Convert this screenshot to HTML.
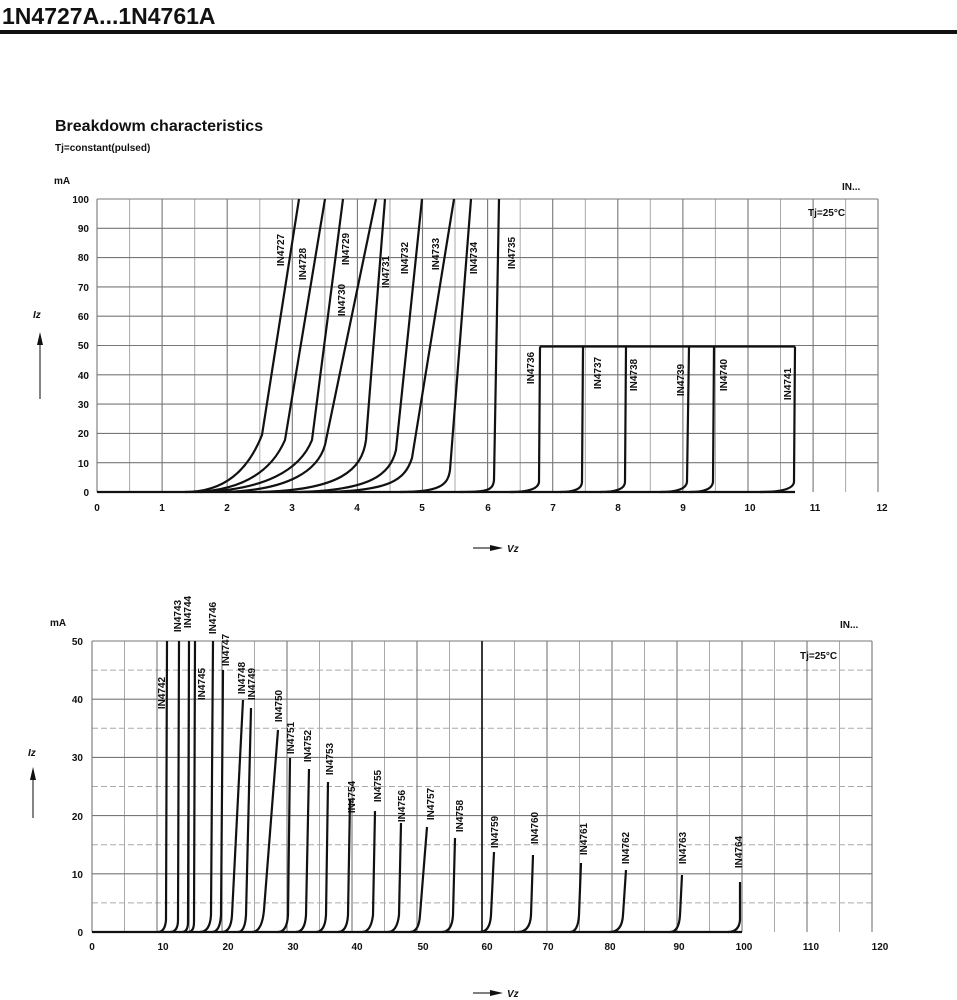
<!DOCTYPE html>
<html><head><meta charset="utf-8"><style>
body{margin:0;background:#fff;}
svg{display:block;font-family:"Liberation Sans",sans-serif;}
.t{font-weight:bold;font-size:10px;fill:#111;}
.lb{font-weight:bold;font-size:10px;fill:#111;}
</style></head><body>
<svg width="957" height="1000" viewBox="0 0 957 1000" xmlns="http://www.w3.org/2000/svg">
<text x="2" y="24" font-size="23" font-weight="bold" fill="#111">1N4727A...1N4761A</text>
<rect x="0" y="30" width="957" height="4" fill="#111"/>
<text x="55" y="131" font-size="16" font-weight="bold" fill="#111">Breakdowm characteristics</text>
<text x="55" y="151" font-size="10" font-weight="bold" fill="#111">Tj=constant(pulsed)</text>

<!-- TOP CHART -->
<g stroke="#aaa" stroke-width="1" fill="none">
<path d="M129.6 199V492M194.7 199V492M259.8 199V492M324.9 199V492M390 199V492M455 199V492M520.2 199V492M585.3 199V492M650.3 199V492M715.4 199V492M780.5 199V492M845.6 199V492"/>
</g>
<g stroke="#777" stroke-width="1.1" fill="none">
<path d="M97 199V492M162.1 199V492M227.2 199V492M292.3 199V492M357.4 199V492M422.5 199V492M487.6 199V492M552.7 199V492M617.8 199V492M682.9 199V492M748 199V492M813.1 199V492M878 199V492"/>
<path d="M97 199H878M97 228.3H878M97 257.6H878M97 286.9H878M97 316.2H878M97 345.5H878M97 374.8H878M97 404.1H878M97 433.4H878M97 462.7H878"/>
</g>
<g stroke="#111" stroke-width="2.2" fill="none" stroke-linejoin="round">
<path d="M97 492H795"/>
<path d="M540 346.5H795"/>
<path d="M185 492C225 492 248 470 262 435L299 199"/>
<path d="M195 492C245 490 272 470 285 440L325 199"/>
<path d="M200 492C265 490 300 470 312 440L343 199"/>
<path d="M225 492C290 490 318 470 325 445L376 199"/>
<path d="M260 492C340 490 362 470 366 440L385 199"/>
<path d="M300 492C370 490 390 475 396 450L422 199"/>
<path d="M330 492C390 490 405 480 412 458L454 199"/>
<path d="M400 492C440 492 448 485 450 470L471 199"/>
<path d="M460 492C488 492 493 490 494 480L499 199"/>
<path d="M510 492Q538 492 539 482L540 346.5"/>
<path d="M560 492Q582 492 582 482L583 346.5"/>
<path d="M600 492Q625 492 625 482L626 346.5"/>
<path d="M660 492Q686 492 687 482L689 346.5"/>
<path d="M690 492Q712 492 713 482L714 346.5"/>
<path d="M760 492Q793 492 794 482L795 346.5"/>
</g>
<g class="t" text-anchor="end">
<text x="89" y="203">100</text><text x="89" y="232">90</text><text x="89" y="261">80</text><text x="89" y="291">70</text><text x="89" y="320">60</text><text x="89" y="349">50</text><text x="89" y="379">40</text><text x="89" y="408">30</text><text x="89" y="437">20</text><text x="89" y="467">10</text><text x="89" y="496">0</text>
</g>
<g class="t" text-anchor="middle">
<text x="97" y="511">0</text><text x="162" y="511">1</text><text x="227" y="511">2</text><text x="292" y="511">3</text><text x="357" y="511">4</text><text x="422" y="511">5</text><text x="488" y="511">6</text><text x="553" y="511">7</text><text x="618" y="511">8</text><text x="683" y="511">9</text><text x="750" y="511">10</text><text x="815" y="511">11</text><text x="882" y="511">12</text>
</g>
<text x="54" y="184" class="t">mA</text>
<text x="33" y="318" class="t" font-style="italic">Iz</text>
<path d="M40 399V340" stroke="#333" stroke-width="1.2"/><path d="M37 345L40 332L43 345Z" fill="#111"/>
<path d="M473 548H496" stroke="#333" stroke-width="1.2"/><path d="M490 545L503 548L490 551Z" fill="#111"/>
<text x="507" y="552" class="t" font-style="italic">Vz</text>
<text x="842" y="190" class="t">IN...</text>
<text x="808" y="216" class="t">Tj=25°C</text>
<g class="lb" text-anchor="middle">
<text transform="translate(284,250) rotate(-90)">IN4727</text>
<text transform="translate(306,264) rotate(-90)">IN4728</text>
<text transform="translate(349,249) rotate(-90)">IN4729</text>
<text transform="translate(345,300) rotate(-90)">IN4730</text>
<text transform="translate(389,272) rotate(-90)">IN4731</text>
<text transform="translate(408,258) rotate(-90)">IN4732</text>
<text transform="translate(439,254) rotate(-90)">IN4733</text>
<text transform="translate(477,258) rotate(-90)">IN4734</text>
<text transform="translate(515,253) rotate(-90)">IN4735</text>
<text transform="translate(534,368) rotate(-90)">IN4736</text>
<text transform="translate(601,373) rotate(-90)">IN4737</text>
<text transform="translate(637,375) rotate(-90)">IN4738</text>
<text transform="translate(684,380) rotate(-90)">IN4739</text>
<text transform="translate(727,375) rotate(-90)">IN4740</text>
<text transform="translate(791,384) rotate(-90)">IN4741</text>
</g>

<!-- BOTTOM CHART -->
<g stroke="#aaa" stroke-width="1" fill="none">
<path d="M124.5 641V932M189.5 641V932M254.5 641V932M319.5 641V932M384.5 641V932M449.5 641V932M514.5 641V932M579.5 641V932M644.5 641V932M709.5 641V932M774.5 641V932M839.5 641V932"/>
<path d="M92 902.9H872M92 844.7H872M92 786.5H872M92 728.3H872M92 670.1H872" stroke-dasharray="6 3"/>
</g>
<g stroke="#777" stroke-width="1.1" fill="none">
<path d="M92 641V932M157 641V932M222 641V932M287 641V932M352 641V932M417 641V932M547 641V932M612 641V932M677 641V932M742 641V932M807 641V932M872 641V932"/>
<path d="M92 641H872M92 873.8H872M92 815.6H872M92 757.4H872M92 699.2H872"/>
</g>
<path d="M482 641V932" stroke="#222" stroke-width="1.8"/>
<g stroke="#111" stroke-width="2.2" fill="none" stroke-linejoin="round">
<path d="M92 932H742"/>
<path d="M158 932Q165 932 166 920L167 641"/>
<path d="M170 932Q178 932 178 920L179 641"/>
<path d="M182 932Q188 932 188 922L189 641"/>
<path d="M188 932Q194 932 194 922L195 641"/>
<path d="M200 932Q210 932 211 915L213 641"/>
<path d="M212 932Q220 932 221 915L223 670"/>
<path d="M222 932Q231 932 232 915L243 700"/>
<path d="M238 932Q245 932 246 915L251 708"/>
<path d="M252 932Q262 932 264 910L278 730"/>
<path d="M278 932Q287 932 288 915L290 758"/>
<path d="M296 932Q305 932 306 915L309 769"/>
<path d="M316 932Q325 932 326 915L328 782"/>
<path d="M338 932Q347 932 348 915L350 799"/>
<path d="M362 932Q371 932 373 915L375 811"/>
<path d="M388 932Q397 932 399 915L401 823"/>
<path d="M410 932Q419 932 420 915L427 827"/>
<path d="M442 932Q452 932 453 915L455 838"/>
<path d="M480 932Q490 932 491 915L494 852"/>
<path d="M518 932Q530 932 531 915L533 855"/>
<path d="M570 932Q578 932 579 915L581 863"/>
<path d="M610 932Q622 932 623 915L626 870"/>
<path d="M670 932Q679 932 680 915L682 875"/>
<path d="M728 932Q739 932 740 920L740 882"/>
</g>
<g class="t" text-anchor="end">
<text x="83" y="645">50</text><text x="83" y="703">40</text><text x="83" y="761">30</text><text x="83" y="820">20</text><text x="83" y="878">10</text><text x="83" y="936">0</text>
</g>
<g class="t" text-anchor="middle">
<text x="92" y="950">0</text><text x="163" y="950">10</text><text x="228" y="950">20</text><text x="293" y="950">30</text><text x="357" y="950">40</text><text x="423" y="950">50</text><text x="487" y="950">60</text><text x="548" y="950">70</text><text x="610" y="950">80</text><text x="679" y="950">90</text><text x="744" y="950">100</text><text x="811" y="950">110</text><text x="880" y="950">120</text>
</g>
<text x="50" y="626" class="t">mA</text>
<text x="28" y="756" class="t" font-style="italic">Iz</text>
<path d="M33 818V773" stroke="#333" stroke-width="1.2"/><path d="M30 780L33 767L36 780Z" fill="#111"/>
<path d="M473 993H496" stroke="#333" stroke-width="1.2"/><path d="M490 990L503 993L490 996Z" fill="#111"/>
<text x="507" y="997" class="t" font-style="italic">Vz</text>
<text x="840" y="628" class="t">IN...</text>
<text x="800" y="659" class="t">Tj=25°C</text>
<g class="lb" text-anchor="middle">
<text transform="translate(165,693) rotate(-90)">IN4742</text>
<text transform="translate(181,616) rotate(-90)">IN4743</text>
<text transform="translate(191,612) rotate(-90)">IN4744</text>
<text transform="translate(205,684) rotate(-90)">IN4745</text>
<text transform="translate(216,618) rotate(-90)">IN4746</text>
<text transform="translate(229,650) rotate(-90)">IN4747</text>
<text transform="translate(245,678) rotate(-90)">IN4748</text>
<text transform="translate(255,684) rotate(-90)">IN4749</text>
<text transform="translate(282,706) rotate(-90)">IN4750</text>
<text transform="translate(294,738) rotate(-90)">IN4751</text>
<text transform="translate(311,746) rotate(-90)">IN4752</text>
<text transform="translate(333,759) rotate(-90)">IN4753</text>
<text transform="translate(355,797) rotate(-90)">IN4754</text>
<text transform="translate(381,786) rotate(-90)">IN4755</text>
<text transform="translate(405,806) rotate(-90)">IN4756</text>
<text transform="translate(434,804) rotate(-90)">IN4757</text>
<text transform="translate(463,816) rotate(-90)">IN4758</text>
<text transform="translate(498,832) rotate(-90)">IN4759</text>
<text transform="translate(538,828) rotate(-90)">IN4760</text>
<text transform="translate(587,839) rotate(-90)">IN4761</text>
<text transform="translate(629,848) rotate(-90)">IN4762</text>
<text transform="translate(686,848) rotate(-90)">IN4763</text>
<text transform="translate(742,852) rotate(-90)">IN4764</text>
</g>
</svg>
</body></html>
